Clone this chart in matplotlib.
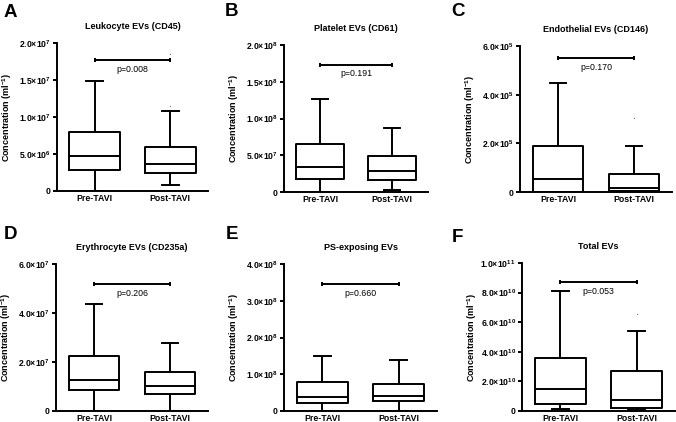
import matplotlib
matplotlib.use("Agg")
import matplotlib.pyplot as plt

plt.rcParams['font.family'] = ['Liberation Sans', 'DejaVu Sans']
plt.rcParams['mathtext.fontset'] = 'custom'
plt.rcParams['mathtext.rm'] = 'Liberation Sans:bold'
plt.rcParams['mathtext.bf'] = 'Liberation Sans:bold'
plt.rcParams['mathtext.it'] = 'Liberation Sans:bold'

groups = ["Pre-TAVI", "Post-TAVI"]
letters = ["A", "B", "C", "D", "E", "F"]
titles = ["Leukocyte EVs (CD45)", "Platelet EVs (CD61)", "Endothelial EVs (CD146)",
          "Erythrocyte EVs (CD235a)", "PS-exposing EVs", "Total EVs"]

# box stats per panel: [whisker low, Q1, median, Q3, whisker high]
leuko_pre = [0, 0.29e7, 0.47e7, 0.80e7, 1.49e7]
leuko_post = [0.086e7, 0.244e7, 0.362e7, 0.597e7, 1.08e7]
plate_pre = [0, 0.18e8, 0.34e8, 0.65e8, 1.259e8]
plate_post = [0.03e8, 0.16e8, 0.29e8, 0.486e8, 0.873e8]
endo_pre = [0, 0, 0.52e5, 1.88e5, 4.46e5]
endo_post = [0, 0.03e5, 0.18e5, 0.755e5, 1.9e5]
eryth_pre = [0, 0.84e7, 1.28e7, 2.23e7, 4.38e7]
eryth_post = [0, 0.71e7, 1.02e7, 1.59e7, 2.79e7]
ps_pre = [0, 0.23e8, 0.38e8, 0.79e8, 1.49e8]
ps_post = [0, 0.26e8, 0.40e8, 0.745e8, 1.40e8]
total_pre = [0.14e10, 0.5e10, 1.51e10, 3.59e10, 8.12e10]
total_post = [0.07e10, 0.22e10, 0.75e10, 2.67e10, 5.42e10]

# stray points above the post-TAVI whiskers
leuko_post_out = [1.15e7, 1.85e7]
endo_post_out = [3.06e5]
total_post_out = [6.56e10]

p_values = ["p=0.008", "p=0.191", "p=0.170", "p=0.206", "p=0.660", "p=0.053"]
bracket_y = [1.765e7, 1.727e8, 5.49e5, 5.17e7, 3.45e8, 8.69e10]

yticks = [
    [0, 5e6, 1e7, 1.5e7, 2e7],
    [0, 5e7, 1e8, 1.5e8, 2e8],
    [0, 2e5, 4e5, 6e5],
    [0, 2e7, 4e7, 6e7],
    [0, 1e8, 2e8, 3e8, 4e8],
    [0, 2e10, 4e10, 6e10, 8e10, 1e11],
]
ytick_labels = [
    ["0", "5.0×10$^{6}$", "1.0×10$^{7}$", "1.5×10$^{7}$", "2.0×10$^{7}$"],
    ["0", "5.0×10$^{7}$", "1.0×10$^{8}$", "1.5×10$^{8}$", "2.0×10$^{8}$"],
    ["0", "2.0×10$^{5}$", "4.0×10$^{5}$", "6.0×10$^{5}$"],
    ["0", "2.0×10$^{7}$", "4.0×10$^{7}$", "6.0×10$^{7}$"],
    ["0", "1.0×10$^{8}$", "2.0×10$^{8}$", "3.0×10$^{8}$", "4.0×10$^{8}$"],
    ["0", "2.0×10$^{10}$", "4.0×10$^{10}$", "6.0×10$^{10}$", "8.0×10$^{10}$", "1.0×10$^{11}$"],
]

panels = [
    (leuko_pre, leuko_post, leuko_post_out),
    (plate_pre, plate_post, []),
    (endo_pre, endo_post, endo_post_out),
    (eryth_pre, eryth_post, []),
    (ps_pre, ps_post, []),
    (total_pre, total_post, total_post_out),
]

W, H = 676, 422
# axes boxes in pixels: left, right, top, bottom
rects = [
    (57, 208, 43, 191),
    (284, 428, 45, 192),
    (520, 672, 46, 192),
    (56, 208, 264, 411),
    (284, 437, 264, 411),
    (522, 675, 263, 411),
]
letter_pos = [(4, 4), (225, 3), (451, 3), (4, 226), (226, 226), (452, 229)]

fig = plt.figure(figsize=(W / 100, H / 100), dpi=100)
lw = 1.4

for i, (pre, post, outs) in enumerate(panels):
    l, r, t, b = rects[i]
    ax = fig.add_axes([l / W, (H - b) / H, (r - l) / W, (b - t) / H])
    stats = []
    for name, s, fl in [(groups[0], pre, []), (groups[1], post, outs)]:
        stats.append(dict(label=name, whislo=s[0], q1=s[1], med=s[2], q3=s[3],
                          whishi=s[4], fliers=fl))
    ax.bxp(stats, positions=[1, 2], widths=0.67, capwidths=0.22, showfliers=True,
           boxprops=dict(color="black", linewidth=lw),
           whiskerprops=dict(color="black", linewidth=lw),
           capprops=dict(color="black", linewidth=lw),
           medianprops=dict(color="black", linewidth=lw),
           flierprops=dict(marker="o", markersize=0.6, markerfacecolor="#444444",
                           markeredgecolor="#444444", markeredgewidth=0))
    ymax = yticks[i][-1]
    ax.set_ylim(0, ymax)
    ax.set_xlim(0.5, 2.5)
    ax.set_yticks(yticks[i])
    ax.set_yticklabels(ytick_labels[i])
    ax.set_xticks([1, 2])
    ax.set_xticklabels(groups, fontweight="bold", fontsize=6.3)
    for lab in ax.get_yticklabels():
        lab.set_fontweight("bold")
        lab.set_fontsize(6.2)
    ax.tick_params(axis="y", length=3, width=lw, pad=1.5)
    ax.tick_params(axis="x", length=0, pad=2)
    for side in ["top", "right"]:
        ax.spines[side].set_visible(False)
    for side in ["left", "bottom"]:
        ax.spines[side].set_linewidth(lw)
    ax.spines["left"].set_bounds(0, ymax)

    # significance bracket
    by = bracket_y[i]
    ax.plot([1, 2], [by, by], color="black", linewidth=lw)
    ax.plot([1, 2], [by, by], linestyle="none", marker="|", markersize=3.5,
            markeredgewidth=lw, color="black")
    ax.text(1.5, by - ymax * 0.03, p_values[i], ha="center", va="top", fontsize=6.3)

    ax.set_title(titles[i], fontsize=6.5, fontweight="bold", pad=10)
    ax.set_ylabel("Concentration (ml$^{\\mathbf{-1}}$)", fontsize=6.5, fontweight="bold")
    ax.yaxis.set_label_coords(-43 / (r - l), 0.5)

    lx, ly = letter_pos[i]
    fig.text(lx / W, 1 - ly / H, letters[i], fontsize=13.5, fontweight="bold",
             ha="left", va="top")

fig.savefig("out.png", dpi=100)
